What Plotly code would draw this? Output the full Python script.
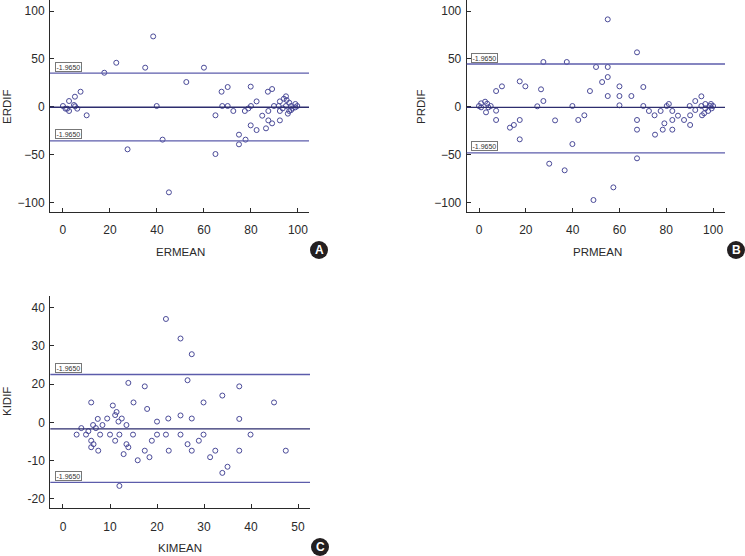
import plotly.graph_objects as go

# ---------------- data ----------------
er_mean = [0, 1.1, 1.8, 2.6, 2.6, 4.7, 5.1, 5.2, 6.1, 7.5, 10.1, 17.6, 22.7, 27.5, 35, 38.4,
           39.9, 42.4, 45.1, 52.5, 60, 64.9, 64.9, 67.5, 67.8, 70.1, 70.1, 72.5, 74.9, 74.9,
           77.4, 77.7, 78.9, 79.9, 79.9, 80, 82.4, 82.4, 84.8, 86.4, 87.2, 87.4, 87.4, 89,
           89, 89.8, 91.8, 92.3, 92.3, 92.3, 93.5, 94, 94.9, 95.2, 94.9, 95.7, 96.3, 96.3,
           97.1, 97.1, 97.7, 98.9, 98.9, 99.7]
er_dif = [0.9, -1.9, -1.9, 6.1, -4.3, 1.9, 10.6, 0.6, -1.9, 15.8, -8.8, 35.6, 46, -44.3, 40.9, 73.5,
          0.9, -34.2, -89.2, 25.9, 40.9, -8.8, -49.2, 15.8, 0.9, 20.7, 0.9, -4.3, -29, -39.1,
          -4.3, -34.2, -1.6, 21.1, -19.3, 0.9, 5.7, -24.2, -9.2, -22.4, 15.8, -4.3, -14.1, 18.6,
          -17.2, 0.9, 0.9, 5.7, -4.3, -14.1, -1.6, 8.5, 11, 7.1, 0.9, -7.1, 4.3, -4.3,
          0.9, -3.3, -1.6, 3, -0.5, 0.9]
er_limits = [35.3, -0.4, -35.5]   # upper, mean, lower

pr_mean = [0, 0.9, 0.9, 2.6, 3, 3.5, 4, 5, 7.3, 7.3, 7.3, 9.8, 13.2, 14.9, 17.4, 17.4, 17.4,
           19.8, 24.9, 26.5, 27.5, 27.5, 30, 32.5, 36.6, 37.5, 39.9, 39.9, 42.4, 45, 47.4,
           48.9, 50, 52.6, 55, 55, 55, 55, 57.4, 60, 60, 60, 65.1, 67.5, 67.5, 67.5, 67.5,
           70.2, 70.2, 72.6, 75, 75.2, 77.6, 78.5, 79.2, 80.2, 81.1, 82.6, 82.6, 82.6, 85,
           87.6, 90, 90.2, 90.2, 92.4, 92.4, 95, 95, 95.3, 96.2, 96.7, 96.7, 97.9, 98.7,
           99.1, 100, 99.4]
pr_dif = [0.9, 3.7, -0.5, 5.4, -5.7, 3.3, -0.5, 0.9, 16.5, -4, -13.7, 21.4, -21.7, -18.9, 26.6, -13.7, -33.9,
          21.4, 0.6, 18.3, 6.1, 46.8, -59.3, -14.1, -66.2, 46.8, 0.9, -38.8, -13.7, -8.8, 16.5,
          -97.2, 41.6, 25.9, 91.3, 41.6, 31.1, 11.3, -84, 21.4, 11.3, 1.6, 11.3, 56.9, -13.7, -23.8, -53.7,
          20.7, 0.9, -4.3, -8.8, -29, -4.3, -23.8, -17.2, 0.9, 3, -4.3, -13.7, -23.8, -9.2,
          -13.7, 0.9, -8.8, -18.9, 6.1, -3.3, 11, 0.9, -8.8, -6.7, 3, -1.6, -4.3, 0.9,
          3, 0.9, -1.6]
pr_limits = [44.7, -0.5, -48.1]

ki_mean = [2.9, 3.9, 4.9, 5.4, 6, 6, 6, 6.4, 6.5, 7, 7.4, 7.5, 7.9, 8.4, 9.4, 10, 10.6, 11.1,
           11.1, 11.4, 11.8, 12, 12, 12.5, 12.9, 13.5, 13.5, 13.9, 13.9, 14.9, 15, 15.9, 17.4,
           17.4, 17.9, 18.4, 18.9, 20, 20, 21.9, 21.9, 22.4, 22.5, 25, 25, 25, 26.5, 26.5, 27.4,
           27.4, 27.4, 28.9, 29.9, 29.9, 31.3, 32.4, 33.9, 33.9, 35, 37.5, 37.5, 37.5, 39.9,
           44.9, 47.4]
ki_dif = [-3.2, -1.5, -3.2, -2.3, 5.2, -4.8, -6.5, -0.7, -5.7, -1.5, 0.9, -7.4, -3.2, -0.7, 1, -3.2, 4.4, 1.9,
          -4.8, 2.7, 0.2, -3.2, -16.6, 1, -8.3, -0.7, -5.7, 10.3, -6.5, -3.2, 5.2, -9.9, 9.4,
          -7.4, 3.5, -9.1, -4.8, 0.2, -3.2, 27, -3.2, 1, -7.4, 21.9, 1.8, -3.2, 11, -5.7, 17.8,
          1, -7.4, -4.8, 5.2, -3.2, -9.1, -7.4, 7, -13.2, -11.6, 9.4, 0.9, -7.4, -3.2,
          5.2, -7.4]
ki_limits = [12.5, -1.7, -15.7]

ab_yticks = [-100, -50, 0, 50, 100]
ab_xticks = [0, 20, 40, 60, 80, 100]
ki_xticks = [0, 10, 20, 30, 40, 50]
ki_ytickvals = [-20, -10, 0, 10, 20, 30]
ki_yticktext = ["-20", "-10", "0", "20", "30", "40"]
limit_label = "-1.9650"

panels = [
    dict(x=er_mean, y=er_dif, lim=er_limits, xt="ERMEAN", yt="ERDIF", letter="A"),
    dict(x=pr_mean, y=pr_dif, lim=pr_limits, xt="PRMEAN", yt="PRDIF", letter="B"),
    dict(x=ki_mean, y=ki_dif, lim=ki_limits, xt="KIMEAN", yt="KIDIF", letter="C"),
]

# ---------------- layout geometry (pixels) ----------------
W, H = 745, 556
geo = [
    dict(l=50, r=309, t=0, b=212, xr=[-5.5, 104.7], yr=[-109.7, 111.5],
         xtitle=(180, 252), ytitle=(7, 107), circ=(319, 250)),
    dict(l=466.7, r=725, t=0, b=212, xr=[-5.26, 105.1], yr=[-109.7, 111.5],
         xtitle=(597, 252), ytitle=(421, 107), circ=(736, 250)),
    dict(l=50.3, r=310, t=296, b=508.3, xr=[-2.7, 52.55], yr=[-22.45, 33.0],
         xtitle=(180, 548), ytitle=(7, 402), circ=(320, 547)),
]

MARK = "#4a4a98"
LIM = "#5c5cab"
MEAN = "#2d2d6e"
AX = "#2a2a2a"
FONT = "Liberation Sans, Arial, Helvetica, sans-serif"

fig = go.Figure()
layout = dict(width=W, height=H, margin=dict(l=0, r=0, t=0, b=0),
              paper_bgcolor="white", plot_bgcolor="white", showlegend=False,
              font=dict(family=FONT, size=12, color=AX))
shapes, annots = [], []

for i, (p, g) in enumerate(zip(panels, geo)):
    n = "" if i == 0 else str(i + 1)
    xa, ya = "x" + n, "y" + n
    fig.add_trace(go.Scatter(
        x=p["x"], y=p["y"], mode="markers", xaxis=xa, yaxis=ya,
        marker=dict(symbol="circle-open", size=5, color=MARK, line=dict(width=1, color=MARK)),
        hoverinfo="skip"))
    common = dict(showline=True, linecolor=AX, linewidth=1, ticks="inside", ticklen=4,
                  tickcolor=AX, tickwidth=1, showgrid=False, zeroline=False,
                  tickfont=dict(family=FONT, size=12, color=AX), fixedrange=True)
    if i < 2:
        xt = dict(tickvals=ab_xticks)
        yt = dict(tickvals=ab_yticks)
    else:
        xt = dict(tickvals=ki_xticks)
        yt = dict(tickvals=ki_ytickvals, ticktext=ki_yticktext)
    layout["xaxis" + n] = dict(domain=[g["l"] / W, g["r"] / W], range=g["xr"], anchor=ya,
                               ticklabelstandoff=7, **xt, **common)
    layout["yaxis" + n] = dict(domain=[1 - g["b"] / H, 1 - g["t"] / H], range=g["yr"], anchor=xa,
                               ticklabelstandoff=2, **yt, **common)
    up, mean, low = p["lim"]
    for val, col, w in [(up, LIM, 1.3), (mean, MEAN, 1.3), (low, LIM, 1.3)]:
        shapes.append(dict(type="line", xref=xa + " domain", x0=0, x1=1, yref=ya, y0=val, y1=val,
                           line=dict(color=col, width=w)))
    for val in (up, low):
        annots.append(dict(text=limit_label, xref=xa + " domain", x=0.018, xanchor="left",
                           yref=ya, y=val, yanchor="bottom", yshift=1.5, showarrow=False,
                           font=dict(family=FONT, size=7, color="#333"), bgcolor="white",
                           bordercolor="#777", borderwidth=1, borderpad=0.5))
    # axis titles
    annots.append(dict(text=p["xt"], xref="paper", yref="paper", x=g["xtitle"][0] / W,
                       y=1 - g["xtitle"][1] / H, xanchor="center", yanchor="middle",
                       showarrow=False, font=dict(family=FONT, size=11.5, color=AX)))
    annots.append(dict(text=p["yt"], xref="paper", yref="paper", x=g["ytitle"][0] / W,
                       y=1 - g["ytitle"][1] / H, xanchor="center", yanchor="middle", textangle=-90,
                       showarrow=False, font=dict(family=FONT, size=11.5, color=AX)))
    # circled panel letter
    cx, cy, r = g["circ"][0], g["circ"][1], 9
    shapes.append(dict(type="circle", xref="paper", yref="paper",
                       x0=(cx - r) / W, x1=(cx + r) / W, y0=1 - (cy + r) / H, y1=1 - (cy - r) / H,
                       fillcolor="#231f20", line=dict(width=0)))
    annots.append(dict(text="<b>" + p["letter"] + "</b>", xref="paper", yref="paper",
                       x=cx / W, y=1 - cy / H, xanchor="center", yanchor="middle", showarrow=False,
                       font=dict(family=FONT, size=12, color="white")))

layout["shapes"] = shapes
layout["annotations"] = annots
fig.update_layout(**layout)
fig.write_html("out.html", config={"displayModeBar": False},
               post_script="document.body.style.margin='0';document.body.style.overflow='hidden';")
